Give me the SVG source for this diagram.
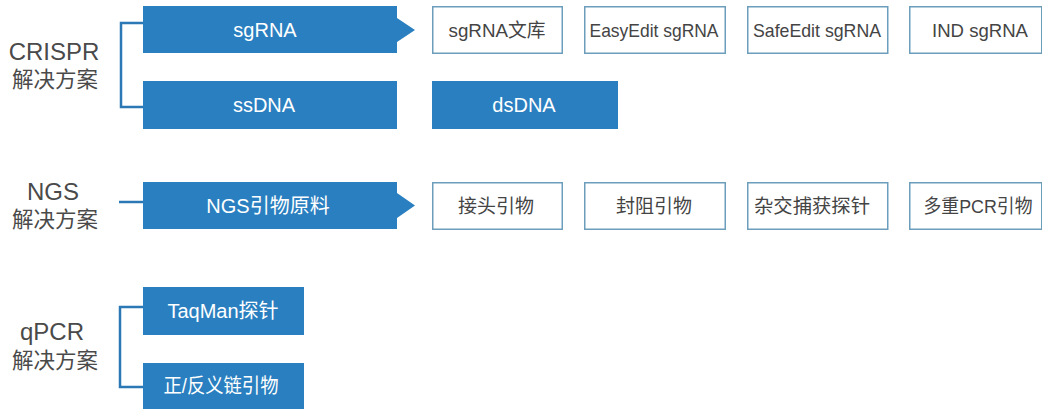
<svg xmlns="http://www.w3.org/2000/svg" width="1042" height="409" viewBox="0 0 1042 409">
  <style>
    text { font-family: "Liberation Sans", "Noto Sans CJK SC", sans-serif; text-anchor: middle; }
    .solid { fill: #2a7fc0; }
    .outline { fill: #ffffff; stroke: #6c9dbb; stroke-width: 1.5; }
    .wt { fill: #ffffff; font-size: 20px; }
    .dt { fill: #444444; font-size: 19px; }
    .cat { fill: #4a4a4a; font-size: 24px; }
    .catcn { fill: #4a4a4a; font-size: 21.5px; }
    .link { fill: none; stroke: #2b78b5; stroke-width: 2.5; }
  </style>

  <!-- category labels -->
  <g id="cat-crispr">
    <text class="cat" x="54" y="60">CRISPR</text>
    <text class="catcn" x="55" y="87">解决方案</text>
  </g>
  <g id="cat-ngs">
    <text class="cat" x="53" y="200">NGS</text>
    <text class="catcn" x="55" y="227">解决方案</text>
  </g>
  <g id="cat-qpcr">
    <text class="cat" x="52" y="340">qPCR</text>
    <text class="catcn" x="55" y="368">解决方案</text>
  </g>

  <!-- connectors -->
  <g id="connectors">
    <path class="link" d="M143 23 H121 V107 H143"/>
    <path class="link" d="M119 202 H143"/>
    <path class="link" d="M143 307 H120 V387 H143"/>
  </g>

  <!-- CRISPR row -->
  <g id="node-sgrna">
    <path class="solid" d="M143 6 H397 V18 L415 30 L397 42 V53 H143 Z"/>
    <text class="wt" x="265" y="37">sgRNA</text>
  </g>
  <g id="node-ssdna">
    <rect class="solid" x="143" y="81" width="254" height="48"/>
    <text class="wt" x="264" y="112">ssDNA</text>
  </g>
  <g id="node-dsdna">
    <rect class="solid" x="432" y="81" width="186" height="48"/>
    <text class="wt" x="524" y="112" font-size="19">dsDNA</text>
  </g>
  <g id="node-sgrna-lib">
    <rect class="outline" x="432.75" y="6.75" width="129.5" height="46.5"/>
    <text class="dt" x="497" y="37" textLength="97" lengthAdjust="spacingAndGlyphs">sgRNA文库</text>
  </g>
  <g id="node-easyedit">
    <rect class="outline" x="584.75" y="6.75" width="140.5" height="46.5"/>
    <text class="dt" x="654" y="37" textLength="129" lengthAdjust="spacingAndGlyphs">EasyEdit sgRNA</text>
  </g>
  <g id="node-safeedit">
    <rect class="outline" x="747.75" y="6.75" width="140" height="46.5"/>
    <text class="dt" x="817" y="37" textLength="128" lengthAdjust="spacingAndGlyphs">SafeEdit sgRNA</text>
  </g>
  <g id="node-ind">
    <rect class="outline" x="909.75" y="6.75" width="132" height="46.5"/>
    <text class="dt" x="980" y="37" textLength="96" lengthAdjust="spacingAndGlyphs">IND sgRNA</text>
  </g>

  <!-- NGS row -->
  <g id="node-ngs-raw">
    <path class="solid" d="M143 182 H397 V193 L415 205.5 L397 218 V229 H143 Z"/>
    <text class="wt" x="268" y="213" font-size="18.5">NGS引物原料</text>
  </g>
  <g id="node-adapter">
    <rect class="outline" x="432.75" y="182.75" width="129.5" height="46.5"/>
    <text class="dt" x="496" y="213" font-size="18">接头引物</text>
  </g>
  <g id="node-blocker">
    <rect class="outline" x="584.75" y="182.75" width="140.5" height="46.5"/>
    <text class="dt" x="654" y="213" font-size="18">封阻引物</text>
  </g>
  <g id="node-capture">
    <rect class="outline" x="747.75" y="182.75" width="140" height="46.5"/>
    <text class="dt" x="812" y="213" font-size="18" textLength="116" lengthAdjust="spacingAndGlyphs">杂交捕获探针</text>
  </g>
  <g id="node-multiplex">
    <rect class="outline" x="909.75" y="182.75" width="132" height="46.5"/>
    <text class="dt" x="978" y="213" font-size="18" textLength="109" lengthAdjust="spacingAndGlyphs">多重PCR引物</text>
  </g>

  <!-- qPCR row -->
  <g id="node-taqman">
    <rect class="solid" x="143" y="287" width="161" height="48"/>
    <text class="wt" x="223" y="318" font-size="19">TaqMan探针</text>
  </g>
  <g id="node-primers">
    <rect class="solid" x="143" y="363" width="161" height="46"/>
    <text class="wt" x="221" y="393" font-size="21" textLength="115" lengthAdjust="spacingAndGlyphs">正/反义链引物</text>
  </g>
</svg>
